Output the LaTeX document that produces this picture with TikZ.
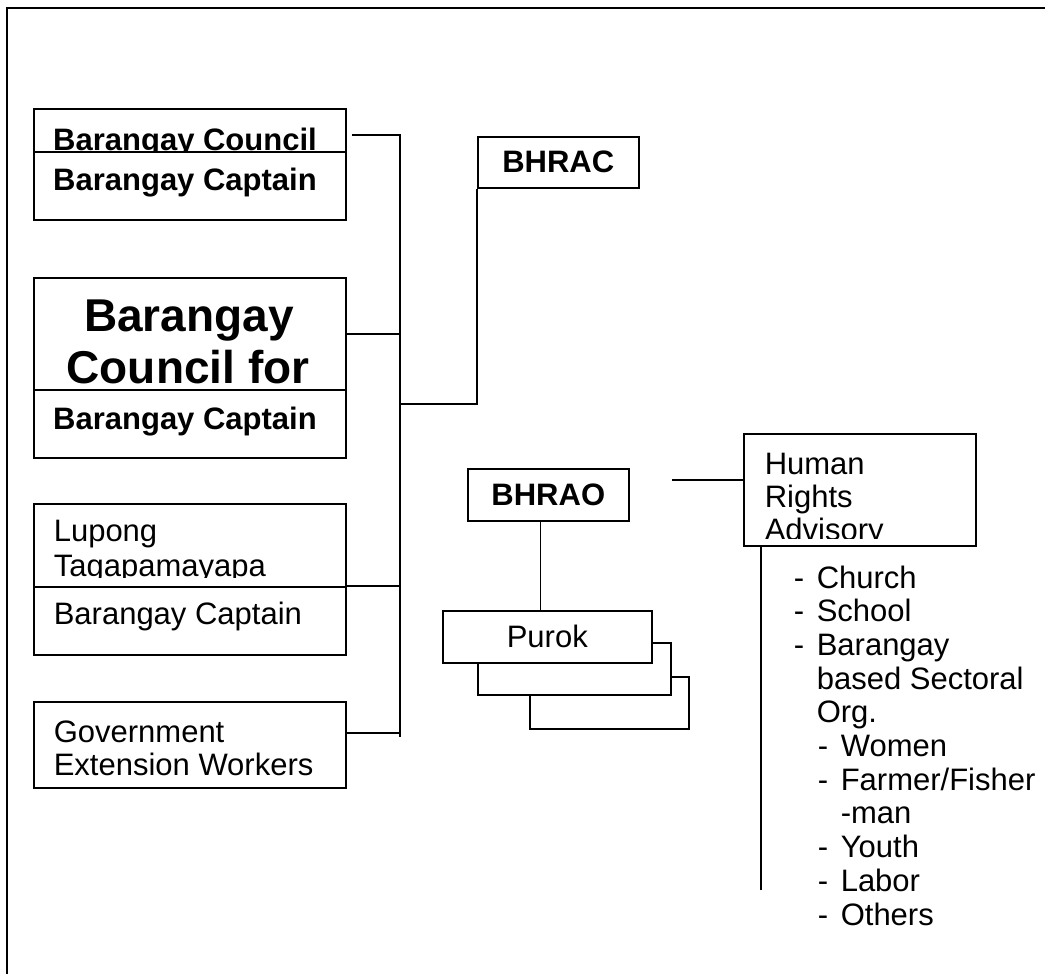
\documentclass[tikz,border=0pt]{standalone}
\usepackage{fontspec}
\setmainfont{Liberation Sans}
\begin{document}
\begin{tikzpicture}[x=1pt,y=-1pt,line width=1.6pt,
  box/.style={draw,fill=white,rectangle,inner sep=0pt,anchor=north west},
  cbox/.style={box,font=\fontsize{31}{35}\selectfont\bfseries},
  pbox/.style={box,font=\fontsize{31}{35}\selectfont},
  txt/.style={inner sep=0pt,anchor=base west,font=\fontsize{31}{35}\selectfont},
  btxt/.style={inner sep=0pt,anchor=base,font=\fontsize{31}{35}\selectfont\bfseries},
  bigtxt/.style={inner sep=0pt,anchor=base,font=\fontsize{46}{52}\selectfont\bfseries}]
\useasboundingbox (0,0) rectangle (1045,974);
% frame
\draw[line width=2pt] (7,974) -- (7,8) -- (1045,8);

% junction coordinates
\coordinate (bustop) at (400,135);
\coordinate (busbot) at (400,737);
\coordinate (j2) at (400,334);
\coordinate (j5) at (400,404);
\coordinate (j4) at (400,733);
\coordinate (hrin) at (672,480);
\coordinate (hrend) at (761,890);

% box 1
\node[box,minimum width=312,minimum height=111] (b1) at (33,108) {};
\node[btxt] (t1a) at (185,150) {Barangay Council};
\node[box,minimum width=312,minimum height=68] (b1lo) at (33,151) {};
\node[btxt] (t1b) at (185,190) {Barangay Captain};

% box 2
\node[box,minimum width=312,minimum height=180] (b2) at (33,277) {};
\node[bigtxt] (t2a) at (189,331) {Barangay};
\node[bigtxt] (t2b) at (188,383) {Council for};
\node[box,minimum width=312,minimum height=68] (b2lo) at (33,389) {};
\node[btxt] (t2c) at (185,429) {Barangay Captain};

% box 3
\node[box,minimum width=312,minimum height=151] (b3) at (33,503) {};
\begin{scope}
  \clip (33,503) rectangle (345,577);
  \node[txt] (t3a) at (53,541) {Lupong};
  \node[txt] (t3b) at (53,576) {Tagapamayapa};
\end{scope}
\node[box,minimum width=312,minimum height=68] (b3lo) at (33,586) {};
\node[txt] (t3c) at (53,624) {Barangay Captain};

% box 4
\node[box,minimum width=312,minimum height=86] (b4) at (33,701) {};
\node[txt] (t4a) at (53,742) {Government};
\node[txt] (t4b) at (53,775) {Extension Workers};

% BHRAC
\node[cbox,minimum width=161,minimum height=51] (bhrac) at (477,136) {BHRAC};

% BHRAO
\node[cbox,minimum width=161,minimum height=52] (bhrao) at (467,468) {BHRAO};

% Purok stack
\node[box,minimum width=159,minimum height=52] (p3) at (529,676) {};
\node[box,minimum width=193,minimum height=52] (p2) at (477,642) {};
\node[pbox,minimum width=209,minimum height=52] (purok) at (442,610) {Purok};

% Human Rights Advisory
\node[box,minimum width=232,minimum height=112] (hr) at (743,433) {};
\begin{scope}
  \clip (743,433) rectangle (975,538);
  \node[txt] (h1) at (764,474) {Human};
  \node[txt] (h2) at (764,507) {Rights};
  \node[txt] (h3) at (764,540) {Advisory};
\end{scope}

% connectors
\draw (b1.east |- bustop) ++(5,0) -- (bustop) -- (busbot);
\draw (b2.east |- j2) -- (j2);
\draw (b3lo.north east) -- (b3lo.north east -| bustop);
\draw (b4.east |- j4) -- (j4);
\draw (j5) -| (bhrac.south west);
\draw ([xshift=-8pt]bhrao.south) -- ([xshift=-8pt]bhrao.south |- purok.north);
\draw (hrin) -- (hr.west |- hrin);
\draw (hr.south west -| hrend) -- (hrend);

% member list
\node[txt] (l1) at (793,588) {\makebox[23pt][l]{-}Church};
\node[txt] (l2) at (793,621.7) {\makebox[23pt][l]{-}School};
\node[txt] (l3) at (793,655.4) {\makebox[23pt][l]{-}Barangay};
\node[txt] (l4) at (816,689.1) {based Sectoral};
\node[txt] (l5) at (816,722.8) {Org.};
\node[txt] (l6) at (817,756.5) {\makebox[23pt][l]{-}Women};
\node[txt] (l7) at (817,790.2) {\makebox[23pt][l]{-}Farmer/Fisher};
\node[txt] (l8) at (840,823.9) {-man};
\node[txt] (l9) at (817,857.6) {\makebox[23pt][l]{-}Youth};
\node[txt] (l10) at (817,891.3) {\makebox[23pt][l]{-}Labor};
\node[txt] (l11) at (817,925) {\makebox[23pt][l]{-}Others};
\end{tikzpicture}
\end{document}
